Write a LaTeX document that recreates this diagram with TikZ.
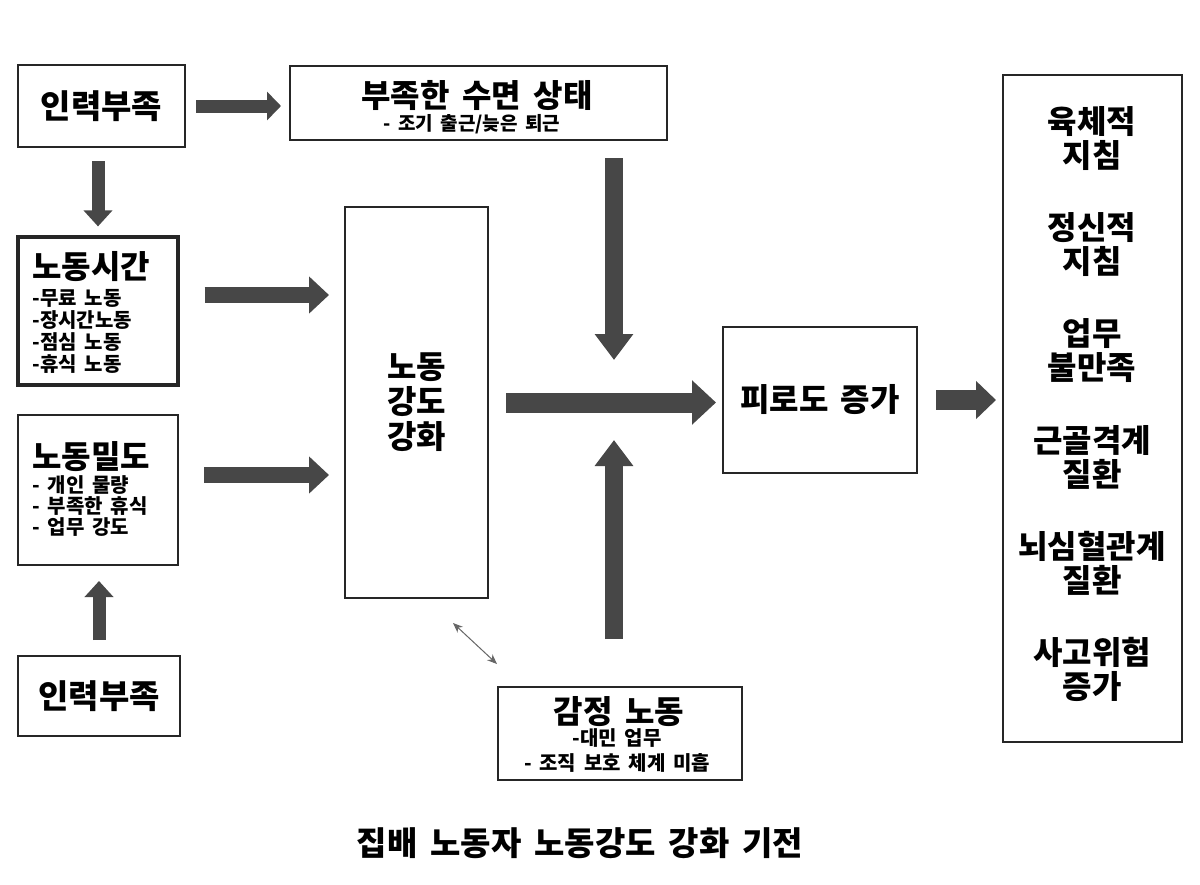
\documentclass[tikz,border=0pt]{standalone}
\usepackage{fontspec}
\setmainfont{Noto Sans CJK KR}[WordSpace=1.7]
\usetikzlibrary{arrows.meta,positioning}

\providecommand{\flowBoxColor}{black!85}
\providecommand{\flowArrowColor}{black!72}
\providecommand{\flowBoxLineWidth}{1pt}
\providecommand{\flowTitleFont}{\fontsize{16}{18}\selectfont\bfseries}
\providecommand{\flowItemFont}{\fontsize{10}{11}\selectfont\bfseries}
\providecommand{\flowSubFont}{\fontsize{10}{12}\selectfont\bfseries}

\begin{document}
\begin{tikzpicture}[x=0.5pt, y=-0.5pt,
  flowbox/.style={draw=\flowBoxColor, line width=\flowBoxLineWidth, inner sep=0pt},
  flowtext/.style={inner sep=0pt, font=\flowTitleFont},
  flowitems/.style={inner sep=0pt, align=left, font=\flowItemFont},
  blockarrow/.style n args={3}{draw=\flowArrowColor, line width=#1, -{Triangle[length=#2, width=#3]}},
  thinarrow/.style={draw=black!60, line width=0.5pt, {Stealth[length=5pt, width=4pt]}-{Stealth[length=5pt, width=4pt]}}]
% Page frame
\useasboundingbox[fill=white] (0,0) rectangle (1200,884);
% Left column
\node[flowbox, minimum width=83.5pt, minimum height=41pt, font=\fontsize{16.5}{18}\selectfont\bfseries] (shortTop) at (101.5,106) {인력부족};
\node[flowbox, minimum width=80pt, minimum height=74pt, line width=1.6pt] (hours) at (98,311) {};
\node[flowtext, anchor=west] (hoursTitle) at (32,267) {노동시간};
\node[flowitems, anchor=west] (hoursItems) at (32,331) {-무료 노동\\-장시간노동\\-점심 노동\\-휴식 노동};
\node[flowbox, minimum width=80pt, minimum height=75pt] (density) at (98,490) {};
\node[flowtext, anchor=west] (densityTitle) at (32,457) {노동밀도};
\node[flowitems, anchor=west, font=\fontsize{10}{10.6}\selectfont\bfseries] (densityItems) at (32,506) {- 개인 물량\\- 부족한 휴식\\- 업무 강도};
\node[flowbox, minimum width=81pt, minimum height=40pt, font=\fontsize{16.5}{18}\selectfont\bfseries] (shortBottom) at (99,696) {인력부족};
% Middle column
\node[flowbox, minimum width=188.5pt, minimum height=37pt] (sleep) at (478.5,103) {};
\node[flowtext] (sleepTitle) at (477,96) {부족한 수면 상태};
\node[inner sep=0pt, font=\fontsize{9.5}{12}\selectfont\bfseries] (sleepSub) at (472,124) {- 조기 출근/늦은 퇴근};
\node[flowbox, minimum width=71.5pt, minimum height=195.5pt, align=center,
  font=\fontsize{16}{17.5}\selectfont\bfseries] (strength) at (416.5,402.5) {노동\\강도\\강화};
\node[flowbox, minimum width=122pt, minimum height=46.5pt] (emotion) at (620,733.5) {};
\node[flowtext] (emotionTitle) at (619,712) {감정 노동};
\node[inner sep=0pt, font=\flowSubFont] (emotionSubA) at (617,738) {-대민 업무};
\node[inner sep=0pt, font=\flowSubFont] (emotionSubB) at (617,763) {- 조직 보호 체계 미흡};
\node[flowbox, minimum width=97pt, minimum height=73pt, font=\flowTitleFont] (fatigue) at (820,400) {피로도 증가};
\coordinate (merge) at (614,403);
% Right column
\node[flowbox, minimum width=89.5pt, minimum height=333.5pt] (effects) at (1092.5,408.5) {};
\begin{scope}[every node/.style={inner sep=0pt, align=center, font=\fontsize{16}{17}\selectfont\bfseries}]
  \node (effectA) at (1092,139) {육체적\\지침};
  \node (effectB) at (1092,245) {정신적\\지침};
  \node (effectC) at (1092,351) {업무\\불만족};
  \node (effectD) at (1092,457) {근골격계\\질환};
  \node (effectE) at (1092,563) {뇌심혈관계\\질환};
  \node (effectF) at (1092,669) {사고위험\\증가};
\end{scope}
% Caption
\node[inner sep=0pt, font=\fontsize{16.5}{18}\selectfont\bfseries] (caption) at (580,843) {집배 노동자 노동강도 강화 기전};
% Block arrows
\draw[blockarrow={6.5pt}{7pt}{14pt}, shorten <=5pt, shorten >=4pt] (shortTop.east) -- (shortTop.east -| sleep.west);
\draw[blockarrow={6.5pt}{8pt}{14pt}, shorten <=6.5pt, shorten >=4.5pt] (hours.north |- shortTop.south) -- (hours.north);
\draw[blockarrow={6.5pt}{8pt}{14pt}, shorten <=7.5pt, shorten >=7.5pt] (shortBottom.north) -- (shortBottom.north |- density.south);
\draw[blockarrow={8pt}{10pt}{18pt}, shorten <=12.5pt, shorten >=7.5pt] ([yshift=8pt]hours.east) -- ([yshift=8pt]hours.east -| strength.west);
\draw[blockarrow={8pt}{10pt}{18pt}, shorten <=12.5pt, shorten >=7.5pt] ([yshift=7.5pt]density.east) -- ([yshift=7.5pt]density.east -| strength.west);
\draw[blockarrow={10pt}{12pt}{21.5pt}, shorten <=8.5pt, shorten >=3pt] (strength.east) -- (strength.east -| fatigue.west);
\draw[blockarrow={9pt}{13pt}{18.5pt}, shorten <=8.5pt] (merge |- sleep.south) -- ([yshift=21.5pt]merge);
\draw[blockarrow={9pt}{13pt}{18.5pt}, shorten <=23.5pt] (merge |- emotion.north) -- ([yshift=-18.5pt]merge);
\draw[blockarrow={10pt}{10pt}{18.5pt}, shorten <=9pt, shorten >=3pt] (fatigue.east) -- (fatigue.east -| effects.west);
% Two-way link
\draw[thinarrow] ([shift={(-18pt,-12pt)}]strength.south east) -- ([yshift=11pt]emotion.north west);
\end{tikzpicture}
\end{document}
